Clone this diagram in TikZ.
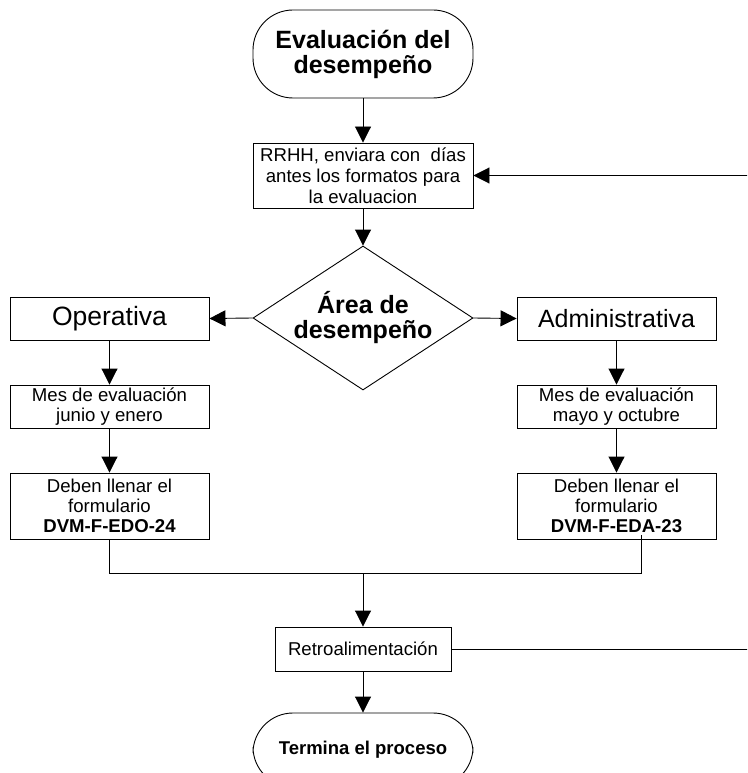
\documentclass[tikz,border=0pt]{standalone}
\usepackage{fontspec}
\setmainfont{Liberation Sans}
\usetikzlibrary{arrows.meta,shapes.geometric,calc}

\tikzset{
  wire/.style={draw=black, line width=0.9pt},
  arr/.style={wire, -{Triangle[length=16pt,width=16pt]}},
  procbox/.style={wire, rectangle, inner sep=0pt, align=center,
    minimum width=199pt, minimum height=43pt,
    font=\fontsize{18.6}{20}\selectfont},
  bigbox/.style={wire, rectangle, inner sep=0pt, align=center,
    minimum width=199pt, minimum height=43pt,
    font=\fontsize{25}{25}\selectfont},
  termbox/.style={wire, rectangle, rounded corners=40pt, inner sep=0pt,
    align=center, minimum width=220pt},
  decision/.style={wire, diamond, inner sep=0pt,
    minimum width=220pt, minimum height=144pt},
}

\begin{document}
\begin{tikzpicture}[x=1pt, y=-1pt]
  \useasboundingbox (0,0) rectangle (747,773);
  \clip (0,0) rectangle (747,773);

  % start and first step
  \node[termbox, minimum height=88pt, font=\fontsize{25}{25}\selectfont\bfseries]
    (start) at (363,54) {Evaluación del\\desempeño};
  \node[procbox, minimum width=220pt, minimum height=65pt,
        font=\fontsize{18.6}{20.8}\selectfont]
    (rrhh) at (363,175.5) {RRHH, enviara con\ \ días\\antes los formatos para\\la evaluacion};

  % decision
  \node[decision] (area) at (363,318) {};
  \node[align=center, inner sep=0pt, font=\fontsize{25}{25}\selectfont\bfseries]
    (areatxt) at (area.center) {Área de\\desempeño};

  % left branch
  \node[bigbox, font=\fontsize{26.5}{26.5}\selectfont] (oper) at (109.5,318.5) {Operativa};
  \node[procbox] (lmes) at (109.5,406.5) {Mes de evaluación\\junio y enero};
  \node[procbox, minimum height=66pt] (ldeb) at (109.5,506)
    {Deben llenar el\\formulario\\\textbf{DVM-F-EDO-24}};

  % right branch
  \node[bigbox] (admin) at (616.5,318.5) {Administrativa};
  \node[procbox] (rmes) at (616.5,406.5) {Mes de evaluación\\mayo y octubre};
  \node[procbox, minimum height=66pt] (rdeb) at (616.5,506)
    {Deben llenar el\\formulario\\\textbf{DVM-F-EDA-23}};

  % feedback and end
  \node[procbox, minimum width=176pt, minimum height=44pt] (retro) at (363,649)
    {Retroalimentación};
  \node[termbox, minimum height=74pt, font=\fontsize{18.5}{20}\selectfont\bfseries]
    (fin) at (363,750) {Termina el proceso};

  % helper points
  \coordinate (join) at (363,573);
  \coordinate (rtap) at ($(rdeb.south)+(24.5,-4)$);
  \coordinate (fbtop) at (748,175.5);
  \coordinate (fbbot) at (748,649);

  % connectors
  \draw[arr] (start.south) -- (rrhh.north);
  \draw[arr] (rrhh.south) -- (area.north);
  \draw[arr] (area.west) -- (oper.east);
  \draw[arr] (area.east) -- (admin.west);
  \draw[arr] (oper.south) -- (lmes.north);
  \draw[arr] (lmes.south) -- (ldeb.north);
  \draw[arr] (admin.south) -- (rmes.north);
  \draw[arr] (rmes.south) -- (rdeb.north);
  \draw[wire] (ldeb.south) -- (ldeb.south |- join) -- (rtap |- join) -- (rtap);
  \draw[arr] (join) -- (retro.north);
  \draw[arr] (retro.south) -- (fin.north);
  \draw[wire] (retro.east) -- (fbbot);
  \draw[arr] (fbtop) -- (rrhh.east);
\end{tikzpicture}
\end{document}
